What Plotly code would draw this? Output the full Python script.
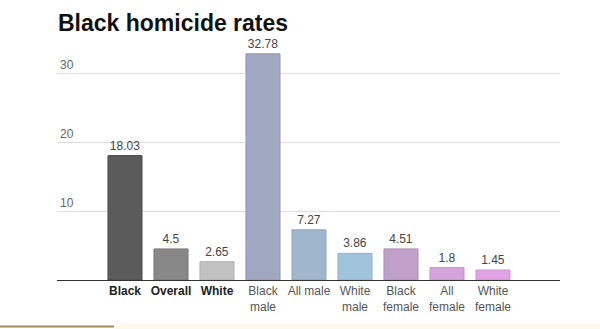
import plotly.graph_objects as go

categories = ["Black", "Overall", "White", "Black male", "All male", "White male",
              "Black female", "All female", "White female"]
tick_labels = ["<b>Black</b>", "<b>Overall</b>", "<b>White</b>", "Black<br>male", "All male",
               "White<br>male", "Black<br>female", "All<br>female", "White<br>female"]
values = [18.03, 4.5, 2.65, 32.78, 7.27, 3.86, 4.51, 1.8, 1.45]
value_labels = ["18.03", "4.5", "2.65", "32.78", "7.27", "3.86", "4.51", "1.8", "1.45"]
bar_colors = ["#5b5b5b", "#888888", "#c2c2c2", "#a0a9bf", "#a0b6cd", "#a0c4dc",
              "#c0a0c8", "#d6a4dc", "#e2a2e6"]
line_colors = ["#4a4a4a", "#767676", "#b0b0b0", "#8f98ae", "#8fa5bc", "#8fb3cb",
               "#af8fb7", "#c593cb", "#d191d5"]
y_ticks = [10, 20, 30]

W, H = 600, 329
L, R, T, B = 57, 40, 40, 49
pw = W - L - R
ph = H - T - B

styled_ticks = [t if t.startswith("<b>") else '<span style="color:#555555">' + t + "</span>"
                for t in tick_labels]

fig = go.Figure()
fig.add_trace(go.Bar(
    x=list(range(len(categories))),
    y=values,
    text=value_labels,
    textposition="outside",
    textfont=dict(family="Liberation Sans, Arial", size=12, color="#444444"),
    cliponaxis=False,
    marker=dict(color=bar_colors, line=dict(color=line_colors, width=1)),
    width=0.74,
    hoverinfo="skip",
))

def px_x(p):
    return (p - L) / pw

def px_y(p):
    return (H - B - p) / ph

shapes = [
    dict(type="rect", xref="paper", yref="paper", x0=px_x(114), x1=px_x(600),
         y0=px_y(329), y1=px_y(323.5), fillcolor="#fdf8ec", line=dict(width=0), layer="below"),
    dict(type="rect", xref="paper", yref="paper", x0=px_x(0), x1=px_x(114),
         y0=px_y(327.5), y1=px_y(325.5), fillcolor="#9a8c5c", line=dict(width=0)),
]

fig.update_layout(
    width=W, height=H,
    margin=dict(l=L, r=R, t=T, b=B, pad=0),
    paper_bgcolor="white", plot_bgcolor="white",
    showlegend=False,
    shapes=shapes,
    title=dict(text="<b>Black homicide rates</b>", x=0, xref="paper",
               xanchor="left", y=1 - 23 / H, yanchor="middle", pad=dict(l=1),
               font=dict(family="Liberation Sans, Arial", size=23, color="#111111")),
    xaxis=dict(range=[-1.478, 9.457], tickmode="array",
               tickvals=list(range(len(categories))), ticktext=styled_ticks,
               showline=True, linecolor="#333333", linewidth=1, showgrid=False,
               zeroline=False, ticks="",
               tickfont=dict(family="Liberation Sans, Arial", size=12, color="#222222"),
               fixedrange=True),
    yaxis=dict(range=[0, ph / 6.9], tickmode="array", tickvals=y_ticks,
               ticktext=[str(v) for v in y_ticks], ticklabelposition="inside top",
               showgrid=True, gridcolor="#dedede", gridwidth=1, zeroline=False,
               showline=False, ticks="",
               tickfont=dict(family="Liberation Sans, Arial", size=12, color="#666666"),
               fixedrange=True),
)

fig.write_html("out.html")
